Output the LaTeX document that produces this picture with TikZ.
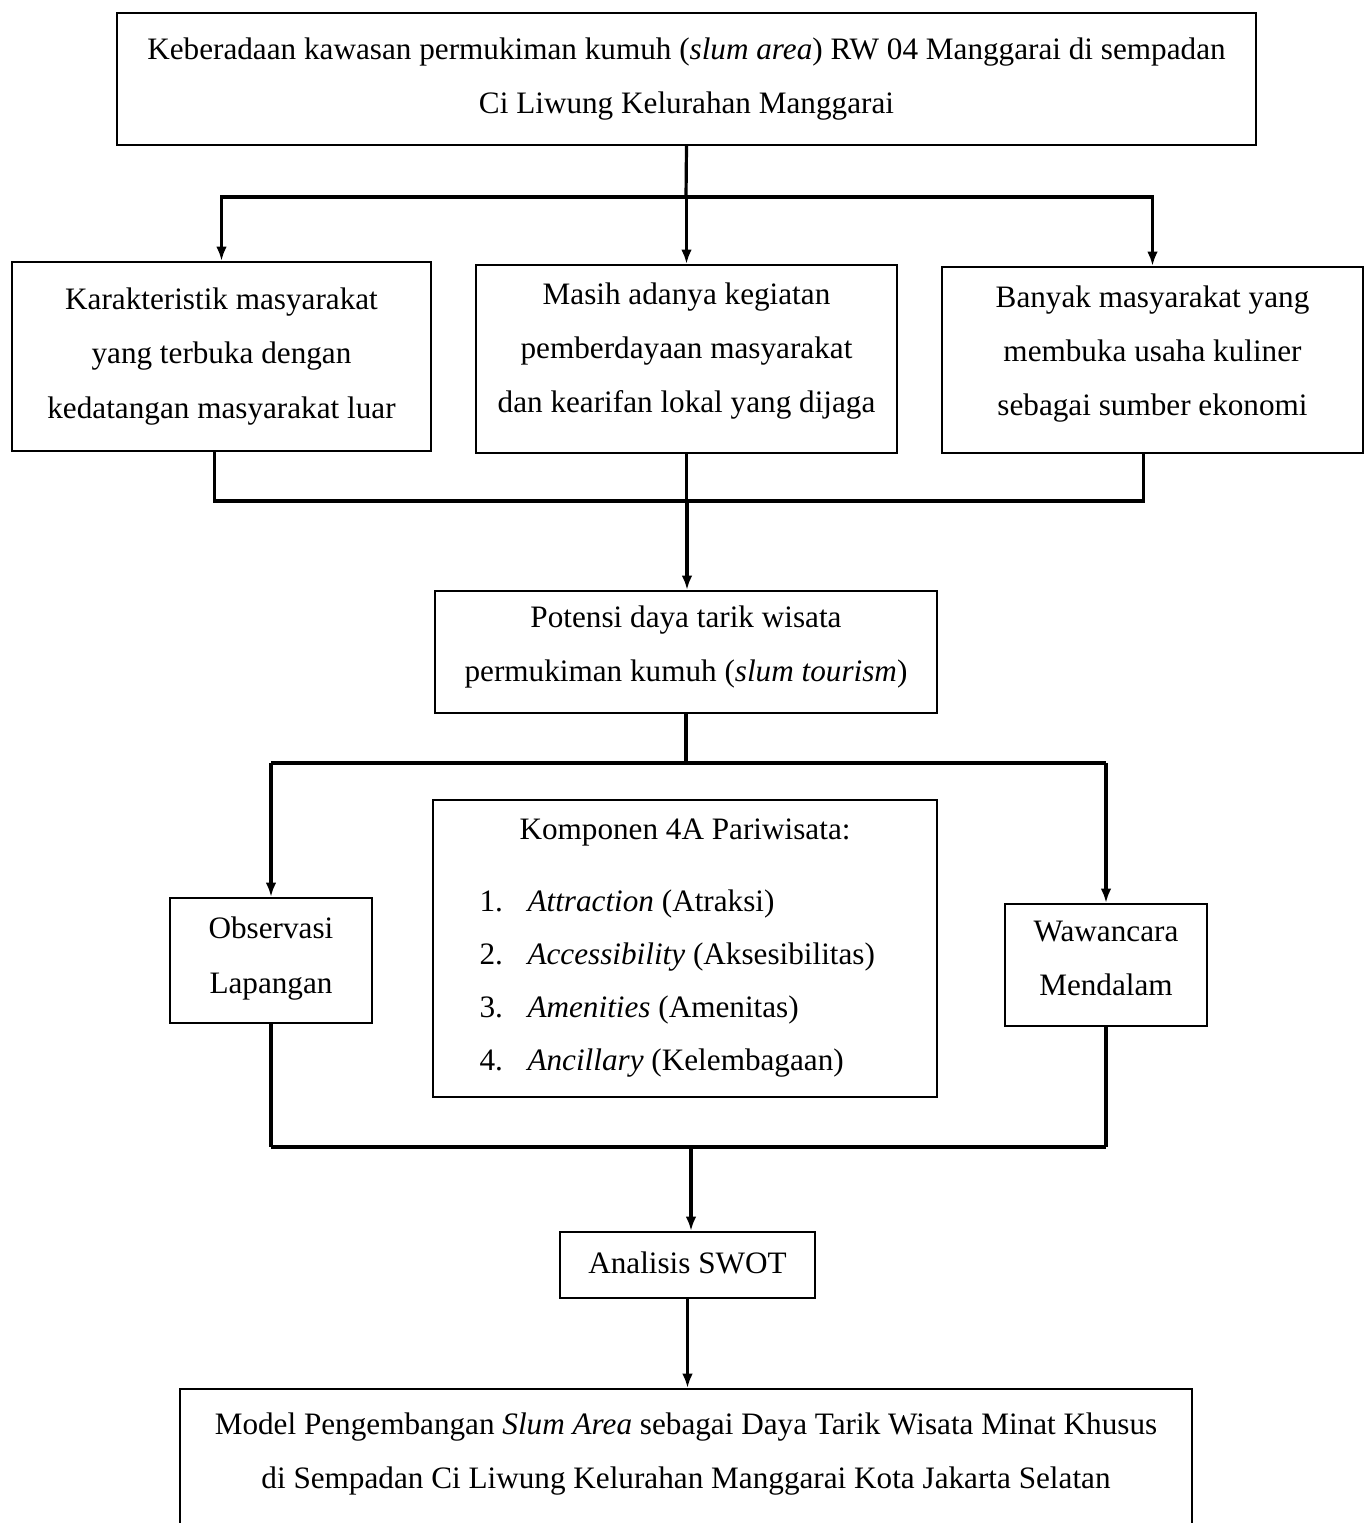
\documentclass[tikz,border=0pt]{standalone}
\usepackage{fontspec}
\setmainfont{Liberation Serif}
\usetikzlibrary{arrows.meta,calc}
\begin{document}
\begin{tikzpicture}[x=0.375pt,y=-0.375pt,
  box/.style={draw,line width=0.8pt,align=center,inner sep=0pt,
    font=\fontsize{11.7}{20.3}\selectfont},
  txt/.style={inner sep=0pt,font=\fontsize{11.7}{20.3}\selectfont},
  conn/.style={line width=1.2pt},
  thick conn/.style={line width=1.8pt},
  arr/.style={line width=1.2pt,-{Latex[length=5.4pt,width=4pt]}}]
\useasboundingbox (0,0) rectangle (1366,1523);
% boxes
\node[box,minimum width=1139*0.375pt,minimum height=132*0.375pt] (top) at (686.5,79)
  {Keberadaan kawasan permukiman kumuh (\textit{slum area}) RW 04 Manggarai di sempadan\\ Ci Liwung Kelurahan Manggarai};
\node[box,minimum width=419*0.375pt,minimum height=189*0.375pt] (left) at (221.5,356.5)
  {Karakteristik masyarakat\\ yang terbuka dengan\\ kedatangan masyarakat luar};
\node[box,minimum width=421*0.375pt,minimum height=188*0.375pt] (mid) at (686.5,359)
  {Masih adanya kegiatan\\ pemberdayaan masyarakat\\ dan kearifan lokal yang dijaga\rule[-8.5pt]{0pt}{0pt}};
\node[box,minimum width=421*0.375pt,minimum height=186*0.375pt] (right) at (1152.5,360)
  {Banyak masyarakat yang\\ membuka usaha kuliner\\ sebagai sumber ekonomi\rule[-7pt]{0pt}{0pt}};
\node[box,minimum width=502*0.375pt,minimum height=122*0.375pt] (pot) at (686,652)
  {Potensi daya tarik wisata\\ permukiman kumuh (\textit{slum tourism})\rule[-6.5pt]{0pt}{0pt}};
\node[box,minimum width=504*0.375pt,minimum height=297*0.375pt] (komp) at (685,948.5) {};
\node[txt] (ktitle) at (685,832) {Komponen 4A Pariwisata:};
\node[txt,anchor=west] (k1) at (479,904) {\makebox[18pt][l]{1.}\textit{Attraction} (Atraksi)};
\node[txt,anchor=west] (k2) at (479,957) {\makebox[18pt][l]{2.}\textit{Accessibility} (Aksesibilitas)};
\node[txt,anchor=west] (k3) at (479,1010) {\makebox[18pt][l]{3.}\textit{Amenities} (Amenitas)};
\node[txt,anchor=west] (k4) at (479,1063) {\makebox[18pt][l]{4.}\textit{Ancillary} (Kelembagaan)};
\node[box,minimum width=202*0.375pt,minimum height=125*0.375pt] (obs) at (271,960.5)
  {Observasi\\ Lapangan\rule[-4pt]{0pt}{0pt}};
\node[box,minimum width=202*0.375pt,minimum height=122*0.375pt] (waw) at (1106,965)
  {Wawancara\\ Mendalam\rule[-5pt]{0pt}{0pt}};
\node[box,minimum width=255*0.375pt,minimum height=66*0.375pt] (swot) at (687.5,1265)
  {Analisis SWOT\rule[-2pt]{0pt}{0pt}};
\node[box,anchor=north,minimum width=1012*0.375pt,inner ysep=0pt] (model) at (686,1388)
  {\rule{0pt}{17pt}Model Pengembangan \textit{Slum Area} sebagai Daya Tarik Wisata Minat Khusus\\
   di Sempadan Ci Liwung Kelurahan Manggarai Kota Jakarta Selatan\rule[-30pt]{0pt}{0pt}};
% junctions
\coordinate (j1) at (686,197);
\coordinate (j2) at (687,501);
\coordinate (j3) at (686,763);
\coordinate (j4) at (691,1147);
% connectors
\draw[conn] (top.south) -- (j1);
\draw[arr] (j1) -| (left.north);
\draw[arr] (j1) -| (right.north);
\draw[arr] (j1 -| mid.north) -- (mid.north);
\draw[conn] ([xshift=-2.6pt]left.south) |- (j2);
\draw[conn] ([xshift=-3.4pt]right.south) |- (j2);
\draw[conn] (mid.south) -- (mid.south |- j2);
\draw[arr] (j2) -- (j2 |- pot.north);
\draw[conn] (pot.south) -- (j3);
\draw[thick conn] (j3 -| obs.north) -- (j3 -| waw.north);
\draw[arr] (j3 -| obs.north) -- (obs.north);
\draw[arr] (j3 -| waw.north) -- (waw.north);
\draw[conn] (obs.south) -- (obs.south |- j4);
\draw[conn] (waw.south) -- (waw.south |- j4);
\draw[thick conn] (j4 -| obs.south) -- (j4 -| waw.south);
\draw[arr] (j4) -- (j4 |- swot.north);
\draw[arr] (swot.south) -- (swot.south |- model.north);
\end{tikzpicture}
\end{document}
